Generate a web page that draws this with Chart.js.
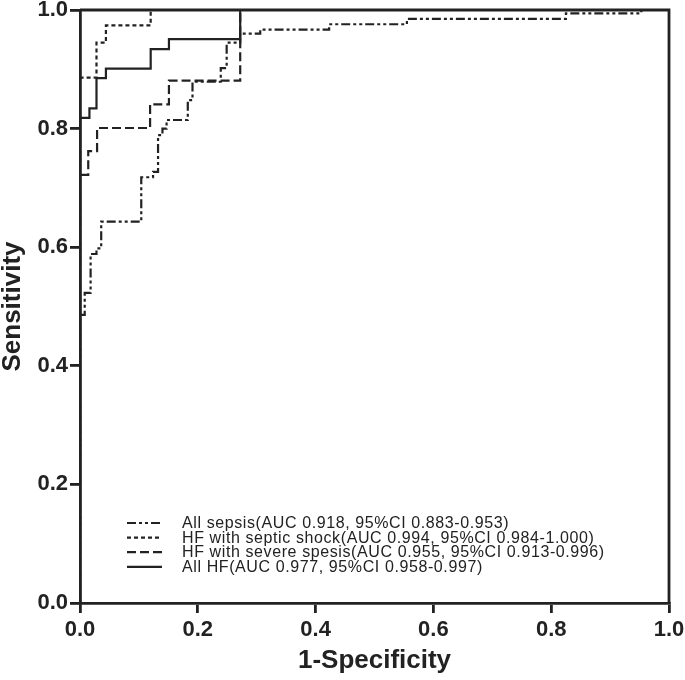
<!DOCTYPE html>
<html lang="en">
<head>
<meta charset="UTF-8">
<title>ROC curves</title>
<script src="https://cdn.jsdelivr.net/npm/chart.js"></script>
<style>
    body { margin: 0; background: #fff; }
    #wrap { width: 685px; height: 680px; }
</style>
</head>
<body>
<div id="wrap">
    <canvas id="rocChart" width="685" height="680"></canvas>
</div>

<script>
    // Tick labels
    const xTickLabels = ['0.0', '0.2', '0.4', '0.6', '0.8', '1.0'];
    const yTickLabels = ['0.0', '0.2', '0.4', '0.6', '0.8', '1.0'];

    // Series names
    const seriesNames = [
        'All sepsis(AUC 0.918, 95%CI 0.883-0.953)',
        'HF with septic shock(AUC 0.994, 95%CI 0.984-1.000)',
        'HF with severe spesis(AUC 0.955, 95%CI 0.913-0.996)',
        'All HF(AUC 0.977, 95%CI 0.958-0.997)'
    ];

    // 1-Specificity / Sensitivity values at each step
    const fprAllSepsis = [0, 0, 0.008, 0.018, 0.028, 0.036, 0.104, 0.124, 0.1325, 0.14, 0.147, 0.183, 0.191, 0.239, 0.249, 0.272, 0.306, 0.423, 0.555, 0.825, 0.953, 1];
    const tprAllSepsis = [0, 0.486, 0.523, 0.5885, 0.598, 0.643, 0.718, 0.727, 0.789, 0.80, 0.8145, 0.848, 0.879, 0.902, 0.945, 0.96, 0.967, 0.976, 0.985, 0.9944, 1.0, 1.0];

    const fprSepticShock = [0, 0, 0.028, 0.044, 0.12, 1];
    const tprSepticShock = [0, 0.886, 0.945, 0.974, 1.0, 1.0];

    const fprSevereSepsis = [0, 0, 0.014, 0.029, 0.119, 0.151, 0.272, 1];
    const tprSevereSepsis = [0, 0.722, 0.762, 0.801, 0.841, 0.881, 1.0, 1.0];

    const fprAllHF = [0, 0, 0.016, 0.028, 0.044, 0.12, 0.151, 0.272, 1];
    const tprAllHF = [0, 0.818, 0.834, 0.885, 0.901, 0.934, 0.951, 1.0, 1.0];

    const ink = '#222';
    const fontFamily = '"Liberation Sans", Arial, sans-serif';
    const dashes = [[9, 3, 3, 3, 3, 3], [4, 3], [9, 4], []];

    function toPoints(xs, ys) {
        return xs.map((x, i) => ({ x: x, y: ys[i] }));
    }

    const seriesData = [
        toPoints(fprAllSepsis, tprAllSepsis),
        toPoints(fprSepticShock, tprSepticShock),
        toPoints(fprSevereSepsis, tprSevereSepsis),
        toPoints(fprAllHF, tprAllHF)
    ];

    // closes the frame on top and right
    const framePlugin = {
        id: 'frame',
        beforeDatasetsDraw(chart) {
            const a = chart.chartArea;
            const ctx = chart.ctx;
            ctx.save();
            ctx.strokeStyle = ink;
            ctx.lineWidth = 2.8;
            ctx.beginPath();
            ctx.moveTo(a.left, a.top);
            ctx.lineTo(a.right, a.top);
            ctx.lineTo(a.right, a.bottom);
            ctx.stroke();
            ctx.restore();
        }
    };

    // legend sits inside the plot, lower left
    const legendPlugin = {
        id: 'rocLegend',
        afterDraw(chart) {
            const a = chart.chartArea;
            const ctx = chart.ctx;
            ctx.save();
            ctx.font = '16px ' + fontFamily;
            ctx.letterSpacing = '0.6px';
            ctx.textBaseline = 'middle';
            ctx.fillStyle = ink;
            chart.data.datasets.forEach((ds, i) => {
                const y = a.bottom - 80 + i * 14.6;
                ctx.strokeStyle = ink;
                ctx.lineWidth = 2.2;
                ctx.setLineDash(ds.borderDash);
                ctx.beginPath();
                ctx.moveTo(a.left + 47, y);
                ctx.lineTo(a.left + 82, y);
                ctx.stroke();
                ctx.setLineDash([]);
                ctx.fillText(ds.label, a.left + 102, y + 0.5);
            });
            ctx.restore();
        }
    };

    const ctx = document.getElementById('rocChart').getContext('2d');
    new Chart(ctx, {
        type: 'line',
        data: {
            datasets: seriesData.map((pts, i) => ({
                label: seriesNames[i],
                data: pts,
                borderColor: ink,
                borderWidth: 2.2,
                borderDash: dashes[i],
                pointRadius: 0,
                fill: false,
                stepped: 'before'
            }))
        },
        options: {
            responsive: false,
            animation: false,
            layout: { padding: { top: 10, right: 16, left: 0, bottom: 0 } },
            plugins: {
                legend: { display: false },
                tooltip: { enabled: false }
            },
            scales: {
                x: {
                    type: 'linear',
                    min: 0,
                    max: 1,
                    afterFit: s => { s.height = 77; s.paddingLeft = 0; s.paddingRight = 16; },
                    ticks: {
                        stepSize: 0.2,
                        color: ink,
                        padding: 6,
                        font: { family: fontFamily, size: 22, weight: 'bold', lineHeight: 1 },
                        callback: (v, i) => xTickLabels[i]
                    },
                    grid: { drawOnChartArea: false, drawTicks: true, tickLength: 10, color: ink, lineWidth: 2.8 },
                    border: { color: ink, width: 2.8 },
                    title: {
                        display: true,
                        text: '1-Specificity',
                        color: ink,
                        padding: { top: 0, bottom: 6 },
                        font: { family: fontFamily, size: 26, weight: 'bold', lineHeight: 1 }
                    }
                },
                y: {
                    type: 'linear',
                    min: 0,
                    max: 1,
                    afterFit: s => { s.width = 80; s.paddingTop = 10; s.paddingBottom = 0; },
                    ticks: {
                        stepSize: 0.2,
                        color: ink,
                        padding: 2,
                        font: { family: fontFamily, size: 22, weight: 'bold', lineHeight: 0.9 },
                        callback: (v, i) => yTickLabels[i]
                    },
                    grid: { drawOnChartArea: false, drawTicks: true, tickLength: 10, color: ink, lineWidth: 2.8 },
                    border: { color: ink, width: 2.8 },
                    title: {
                        display: true,
                        text: 'Sensitivity',
                        color: ink,
                        padding: { top: 0, bottom: 0 },
                        font: { family: fontFamily, size: 26, weight: 'bold', lineHeight: 1 }
                    }
                }
            }
        },
        plugins: [framePlugin, legendPlugin]
    });
</script>
</body>
</html>
